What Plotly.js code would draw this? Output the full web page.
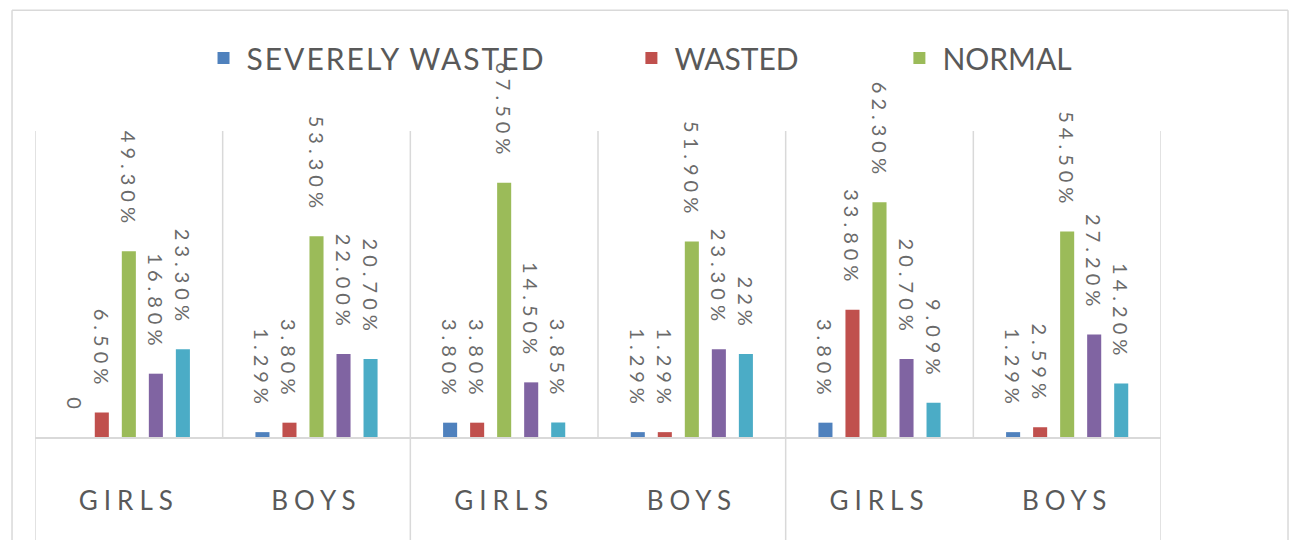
<!DOCTYPE html>
<html>
<head>
<meta charset="utf-8">
<script src="https://cdn.plot.ly/plotly-3.0.1.min.js"></script>
<style>
  html, body { margin: 0; padding: 0; background: #ffffff; }
  #chart { width: 1290px; height: 540px; }
  .bartext { letter-spacing: 5px; }
  .xtick text { letter-spacing: 6px; }
  .legendtext { letter-spacing: 2px; }
</style>
</head>
<body>
<div id="chart"></div>
<script>
// ---- data ----
const categories = ["GIRLS", "BOYS", "GIRLS", "BOYS", "GIRLS", "BOYS"];

const severelyWasted = [0, 1.29, 3.8, 1.29, 3.8, 1.29];
const severelyWastedLabels = ["0", "1.29%", "3.80%", "1.29%", "3.80%", "1.29%"];

const wasted = [6.5, 3.8, 3.8, 1.29, 33.8, 2.59];
const wastedLabels = ["6.50%", "3.80%", "3.80%", "1.29%", "33.80%", "2.59%"];

const normal = [49.3, 53.3, 67.5, 51.9, 62.3, 54.5];
const normalLabels = ["49.30%", "53.30%", "67.50%", "51.90%", "62.30%", "54.50%"];

const series4 = [16.8, 22.0, 14.5, 23.3, 20.7, 27.2];
const series4Labels = ["16.80%", "22.00%", "14.50%", "23.30%", "20.70%", "27.20%"];

const series5 = [23.3, 20.7, 3.85, 22, 9.09, 14.2];
const series5Labels = ["23.30%", "20.70%", "3.85%", "22%", "9.09%", "14.20%"];

const seriesNames = ["SEVERELY WASTED", "WASTED", "NORMAL", "Series 4", "Series 5"];
const colors = ["#4F81BD", "#C0504D", "#9BBB59", "#8064A2", "#4BACC6"];

// ---- build ----
const xIdx = categories.map((c, i) => i);
const labelFont = { family: "Lato, 'Open Sans', sans-serif", size: 20, color: "#6a6a6a" };

function barTrace(name, vals, labels, color, legendId, show) {
  return {
    type: "bar",
    name: name,
    x: xIdx,
    y: vals,
    text: labels,
    texttemplate: "%{text}\u00a0\u00a0",
    textposition: "outside",
    textangle: 90,
    constraintext: "none",
    cliponaxis: false,
    textfont: labelFont,
    marker: { color: color, line: { width: 0 } },
    showlegend: show,
    legend: legendId,
    hoverinfo: "name+y"
  };
}

const data = [
  barTrace(seriesNames[0], severelyWasted, severelyWastedLabels, colors[0], "legend", true),
  barTrace(seriesNames[1], wasted, wastedLabels, colors[1], "legend2", true),
  barTrace(seriesNames[2], normal, normalLabels, colors[2], "legend3", true),
  barTrace(seriesNames[3], series4, series4Labels, colors[3], "legend", false),
  barTrace(seriesNames[4], series5, series5Labels, colors[4], "legend", false)
];

// separators between categories; every second one extends below the axis
const gridColor = "#d9d9d9";
const shapes = [];
for (let i = 0; i <= categories.length; i++) {
  const major = (i % 2 === 0);
  shapes.push({
    type: "line", xref: "x", yref: "paper",
    x0: i - 0.5, x1: i - 0.5,
    y0: major ? -0.4 : 0, y1: 1,
    line: { color: gridColor, width: 1.5 }
  });
}
// outer chart frame
shapes.push({ type: "line", xref: "paper", yref: "paper", x0: -0.0204, x1: 1.1128, y0: 1.395, y1: 1.395, line: { color: gridColor, width: 1.5 } });
shapes.push({ type: "line", xref: "paper", yref: "paper", x0: -0.0204, x1: -0.0204, y0: -0.4, y1: 1.395, line: { color: gridColor, width: 1.5 } });
shapes.push({ type: "line", xref: "paper", yref: "paper", x0: 1.1128, x1: 1.1128, y0: -0.4, y1: 1.395, line: { color: gridColor, width: 1.5 } });

const legendFont = { family: "Lato, 'Open Sans', sans-serif", size: 30, color: "#595959" };
function legendAt(xp) {
  return {
    orientation: "h", x: xp, xanchor: "left", y: 1.2386, yanchor: "middle",
    font: legendFont, bgcolor: "rgba(0,0,0,0)", itemwidth: 36, tracegroupgap: 0
  };
}

const layout = {
  width: 1290,
  height: 540,
  margin: { l: 35, r: 129, t: 131, b: 103 },
  paper_bgcolor: "#ffffff",
  plot_bgcolor: "#ffffff",
  barmode: "group",
  bargap: 0.28,
  bargroupgap: 0.48,
  showlegend: true,
  legend: legendAt(0.147),
  legend2: legendAt(0.527),
  legend3: legendAt(0.765),
  xaxis: {
    range: [-0.5, categories.length - 0.5],
    tickmode: "array",
    tickvals: xIdx,
    ticktext: categories,
    showgrid: false,
    zeroline: false,
    showline: true,
    linecolor: gridColor,
    linewidth: 2,
    ticks: "",
    ticklabelstandoff: 40,
    tickfont: { family: "Lato, 'Open Sans', sans-serif", size: 26, color: "#595959" },
    fixedrange: true
  },
  yaxis: {
    range: [0, 81.2],
    visible: false,
    showgrid: false,
    zeroline: false,
    fixedrange: true
  },
  shapes: shapes
};

Plotly.newPlot("chart", data, layout, { displayModeBar: false, staticPlot: true });
</script>
</body>
</html>
